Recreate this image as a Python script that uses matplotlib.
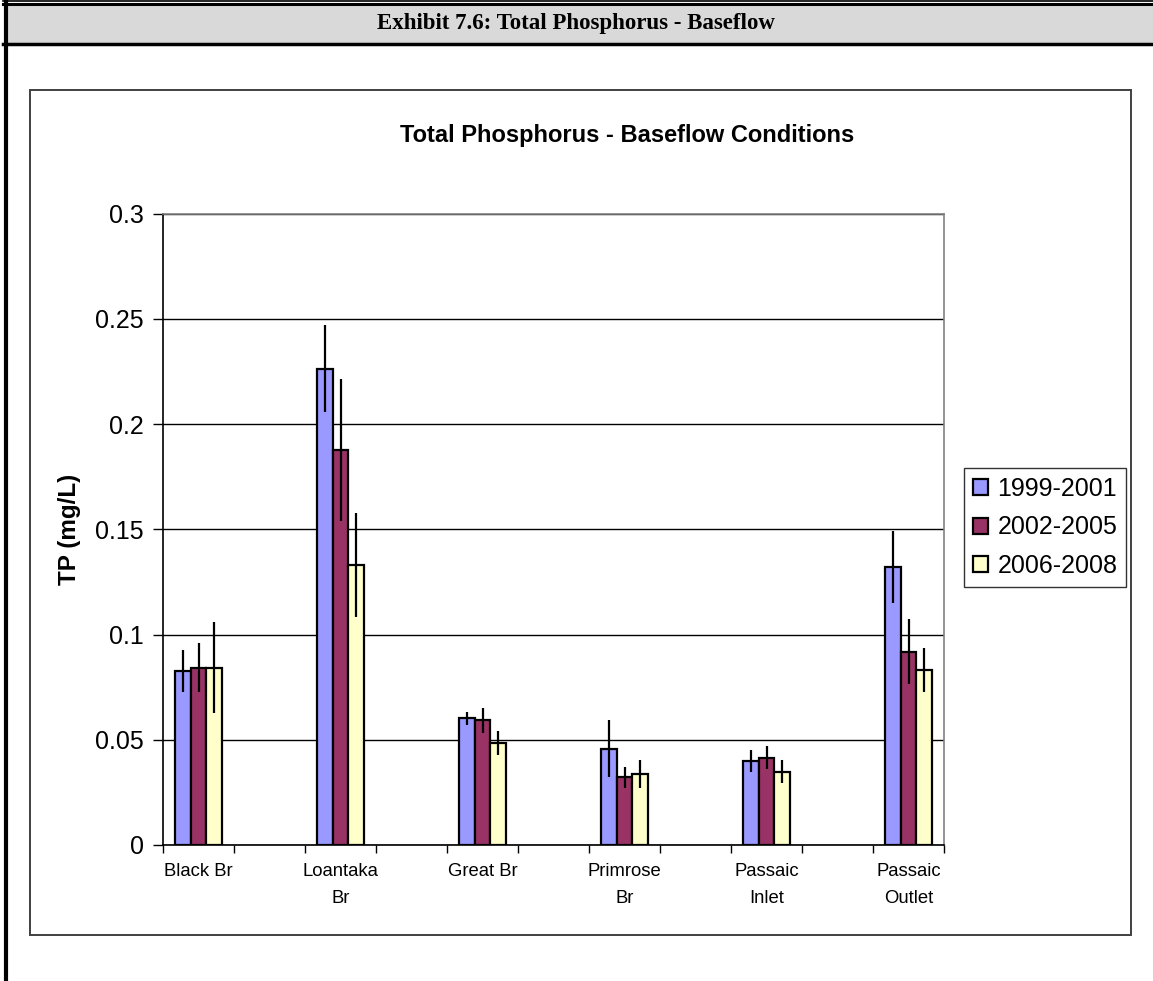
import matplotlib
matplotlib.use("Agg")
import matplotlib.pyplot as plt
import numpy as np
from matplotlib.patches import Rectangle
from matplotlib.lines import Line2D

# Sampling stations and period means (mg/L) with error-bar half widths
stations = ["Black Br", "Loantaka\nBr", "Great Br", "Primrose\nBr",
            "Passaic\nInlet", "Passaic\nOutlet"]
periods = ["1999-2001", "2002-2005", "2006-2008"]

tp_1999 = [0.0826, 0.2263, 0.0602, 0.0458, 0.0398, 0.1321]
err_1999 = [0.0099, 0.0208, 0.0031, 0.0137, 0.0053, 0.0170]
tp_2002 = [0.0842, 0.1877, 0.0593, 0.0321, 0.0415, 0.0919]
err_2002 = [0.0116, 0.0337, 0.0060, 0.0050, 0.0053, 0.0154]
tp_2006 = [0.0842, 0.1329, 0.0484, 0.0339, 0.0348, 0.0833]
err_2006 = [0.0217, 0.0246, 0.0056, 0.0066, 0.0054, 0.0105]

y_ticks = [0, 0.05, 0.1, 0.15, 0.2, 0.25, 0.3]
y_tick_labels = ["0", "0.05", "0.1", "0.15", "0.2", "0.25", "0.3"]

colors = ["#9999FF", "#993366", "#FFFFCC"]

W, H = 1153, 981
fig = plt.figure(figsize=(W / 100, H / 100), dpi=100)
fig.patch.set_facecolor("white")


def fx(px):
    return px / W


def fy(py):
    return 1 - py / H


# Exhibit header band
fig.patches.append(Rectangle((fx(4), fy(43)), fx(W - 4), fy(4) - fy(43),
                             transform=fig.transFigure, facecolor="#d9d9d9",
                             edgecolor="none", zorder=-2))
for y, lw in [(0.6, 1.2), (3.5, 2.2), (43.7, 2.5)]:
    fig.lines.append(Line2D([fx(3), 1], [fy(y), fy(y)], transform=fig.transFigure,
                            color="black", lw=lw, zorder=-1))
fig.lines.append(Line2D([fx(5.5), fx(5.5)], [0, 1], transform=fig.transFigure,
                        color="black", lw=3, zorder=-1))
fig.text(fx(576), fy(23), "Exhibit 7.6: Total Phosphorus - Baseflow",
         family="Liberation Serif", weight="bold", fontsize=16.5,
         ha="center", va="center")

# Chart frame
fig.patches.append(Rectangle((fx(30), fy(935)), fx(1131) - fx(30), fy(90) - fy(935),
                             transform=fig.transFigure, facecolor="white",
                             edgecolor="#404040", lw=1.4, zorder=-1))

ax = fig.add_axes([fx(163), fy(845), fx(944) - fx(163), fy(213.5) - fy(845)])
ax.set_zorder(1)
ax.set_facecolor("white")

n_cat = 2 * len(stations) - 1
pos = np.arange(len(stations)) * 2
bw = 0.225
series = [(tp_1999, err_1999), (tp_2002, err_2002), (tp_2006, err_2006)]
for k, (vals, errs) in enumerate(series):
    x = pos + (k - 1) * bw
    ax.bar(x, vals, width=bw, color=colors[k], edgecolor="black", linewidth=1.6,
           label=periods[k], zorder=2)
    ax.errorbar(x, vals, yerr=errs, fmt="none", ecolor="black", elinewidth=1.6,
                capsize=0, zorder=3)

ax.set_xlim(-0.5, n_cat - 0.5)
ax.set_ylim(0, 0.3)
ax.set_yticks(y_ticks)
ax.set_yticklabels(y_tick_labels, family="Liberation Sans", fontsize=18)
ax.yaxis.grid(True, color="black", lw=1)
ax.set_axisbelow(True)

ax.set_xticks(np.arange(n_cat + 1) - 0.5)
ax.set_xticklabels([])
ax.set_xticks(pos, minor=True)
ax.set_xticklabels(stations, minor=True, family="Liberation Sans", fontsize=13.3,
                   linespacing=1.75, va="top")
ax.tick_params(axis="x", which="major", direction="out", length=6, width=1)
ax.tick_params(axis="x", which="minor", length=0, pad=13)
ax.tick_params(axis="y", direction="out", length=7, width=1, pad=7)

for s in ["left", "bottom"]:
    ax.spines[s].set_color("black")
    ax.spines[s].set_linewidth(1.2)
for s in ["top", "right"]:
    ax.spines[s].set_color("#808080")
    ax.spines[s].set_linewidth(1.2)

ax.set_ylabel("TP (mg/L)", family="Liberation Sans", weight="bold", fontsize=17.5)
ax.yaxis.set_label_coords(-0.105, 0.5)

fig.text(fx(627), fy(135), "Total Phosphorus - Baseflow Conditions",
         family="Liberation Sans", weight="bold", fontsize=17,
         ha="center", va="center")

leg = fig.legend(loc="center", bbox_to_anchor=(fx(1045), fy(527.5)),
                 prop={"family": "Liberation Sans", "size": 18},
                 frameon=True, fancybox=False, shadow=False,
                 handlelength=0.6, handleheight=0.6, handletextpad=0.4,
                 labelspacing=0.58, borderpad=0.35, borderaxespad=0)
leg.get_frame().set_edgecolor("black")
leg.get_frame().set_linewidth(1.0)

fig.savefig("out.png", dpi=100, facecolor="white")
